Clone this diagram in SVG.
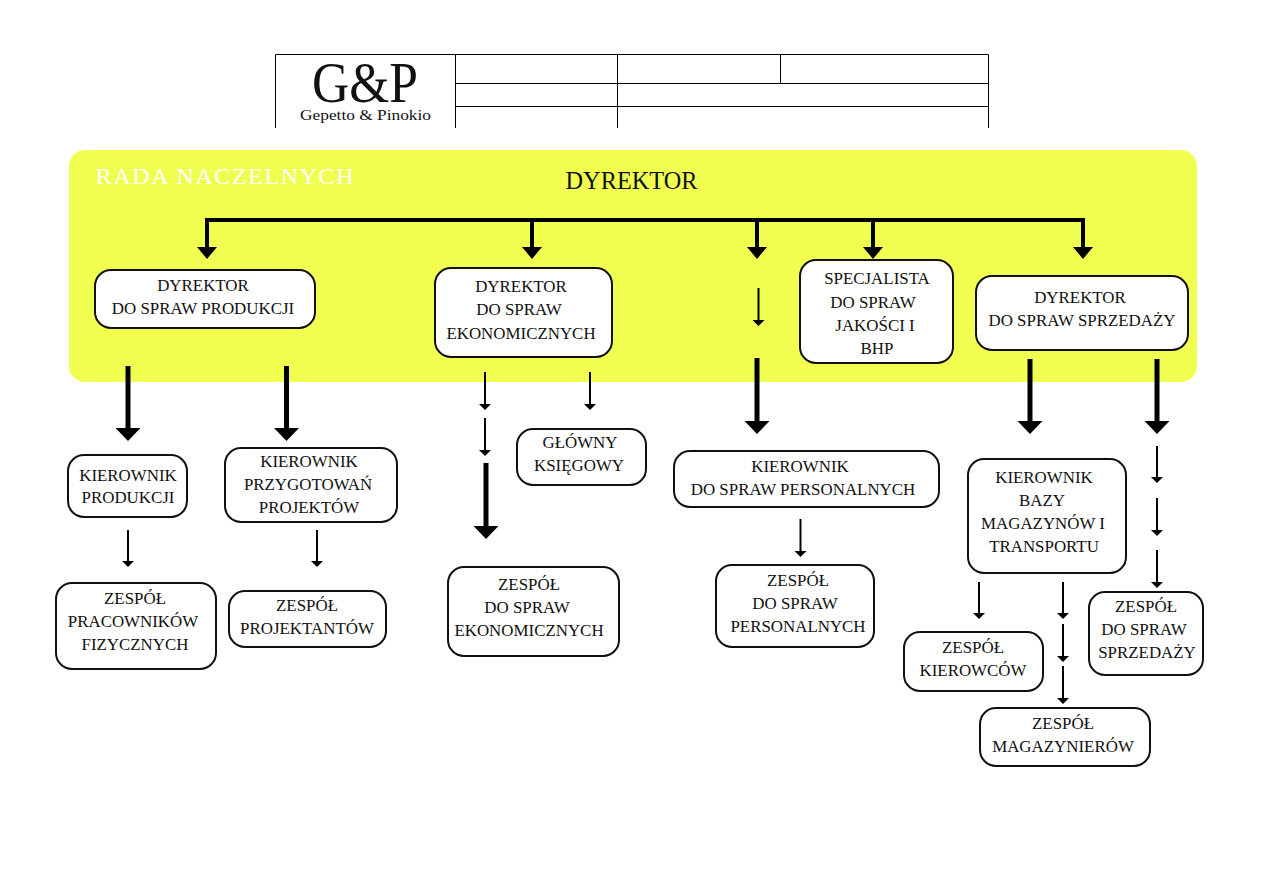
<svg xmlns="http://www.w3.org/2000/svg" width="1263" height="893" viewBox="0 0 1263 893">
<style>
text{font-family:"Liberation Serif","Times New Roman",serif;fill:#111;text-anchor:middle}
.n{font-size:16.9px}
.box{fill:#fff;stroke:#111;stroke-width:2}
.grid{fill:none;stroke:#000;stroke-width:1}
.thick{stroke:#000;stroke-width:5;fill:none;marker-end:url(#headL)}
.mid{stroke:#000;stroke-width:4;fill:none;marker-end:url(#headM)}
.thin{stroke:#000;stroke-width:2;fill:none;marker-end:url(#headS)}
</style>
<defs>
<marker id="headL" markerUnits="userSpaceOnUse" markerWidth="25" markerHeight="13" refX="12.500" refY="0" orient="0" viewBox="0 0 25 13" overflow="visible"><path d="M0 0H25L12.500 13Z"/></marker>
<marker id="headM" markerUnits="userSpaceOnUse" markerWidth="20" markerHeight="12" refX="10" refY="0" orient="0" viewBox="0 0 20 12" overflow="visible"><path d="M0 0H20L10 12Z"/></marker>
<marker id="headS" markerUnits="userSpaceOnUse" markerWidth="12" markerHeight="6" refX="6" refY="0" orient="0" viewBox="0 0 12 6" overflow="visible"><path d="M0 0H12L6 6Z"/></marker>
</defs>
<rect width="1263" height="893" fill="#fff"/>

<!-- letterhead -->
<g id="letterhead">
<path class="grid" d="M275.500 128V54.500H988.500V128M455.500 55V128M617.500 55V128M780.500 55V83M455.500 83.500H988M455.500 106.500H988"/>
<text x="365" y="102" font-size="57" textLength="106" lengthAdjust="spacingAndGlyphs">G&amp;P</text>
<text x="365.500" y="120" font-size="15.500" textLength="131" lengthAdjust="spacingAndGlyphs">Gepetto &amp; Pinokio</text>
</g>

<!-- board panel -->
<g id="board">
<rect x="69" y="150" width="1128" height="232" rx="16" fill="#f0ff50"/>
<text x="225.500" y="184" font-size="24" letter-spacing="1.600" style="fill:#fff">RADA NACZELNYCH</text>
<text x="631.500" y="189" font-size="24.300">DYREKTOR</text>
</g>

<g id="connectors">
<path d="M205 220H1085" stroke="#000" stroke-width="4" fill="none"/>
<path class="mid" d="M207 220V247"/>
<path class="mid" d="M532 220V247"/>
<path class="mid" d="M757 220V247"/>
<path class="mid" d="M873 220V247"/>
<path class="mid" d="M1083 220V247"/>
<path class="thin" d="M758.500 288V320"/>
<path class="thick" d="M128 366V428"/>
<path class="thick" d="M286.500 366V428"/>
<path class="thick" d="M757 358V421"/>
<path class="thick" d="M1030 359V421"/>
<path class="thick" d="M1157 359V421"/>
<path class="thick" d="M486 463V526"/>
<path class="thin" d="M128 530V561"/>
<path class="thin" d="M317 530V561"/>
<path class="thin" d="M485 372V404"/>
<path class="thin" d="M485 418V450"/>
<path class="thin" d="M590 372V404"/>
<path class="thin" d="M800.500 519V551"/>
<path class="thin" d="M1157 446V477"/>
<path class="thin" d="M1157 498V530"/>
<path class="thin" d="M1157 550V582"/>
<path class="thin" d="M979 582V613"/>
<path class="thin" d="M1063 582V613"/>
<path class="thin" d="M1063 624V656"/>
<path class="thin" d="M1063 666V698"/>
</g>

<g id="dyr-produkcji">
<rect class="box" x="95" y="270" width="220" height="58" rx="16"/>
<text class="n" x="203" y="291">DYREKTOR</text>
<text class="n" x="203" y="314">DO SPRAW PRODUKCJI</text>
</g>
<g id="dyr-ekonomicznych">
<rect class="box" x="435" y="268" width="177" height="89" rx="16"/>
<text class="n" x="521" y="292">DYREKTOR</text>
<text class="n" x="519" y="315">DO SPRAW</text>
<text class="n" x="521" y="339">EKONOMICZNYCH</text>
</g>
<g id="specjalista">
<rect class="box" x="800" y="260" width="153" height="103" rx="16"/>
<text class="n" x="877" y="284">SPECJALISTA</text>
<text class="n" x="873" y="308">DO SPRAW</text>
<text class="n" x="875" y="331">JAKOŚCI I</text>
<text class="n" x="877" y="354">BHP</text>
</g>
<g id="dyr-sprzedazy">
<rect class="box" x="976" y="276" width="212" height="74" rx="16"/>
<text class="n" x="1080" y="303">DYREKTOR</text>
<text class="n" x="1082" y="326">DO SPRAW SPRZEDAŻY</text>
</g>
<g id="kier-produkcji">
<rect class="box" x="68" y="455" width="119" height="62" rx="16"/>
<text class="n" x="128" y="481">KIEROWNIK</text>
<text class="n" x="128" y="503">PRODUKCJI</text>
</g>
<g id="kier-przygotowan">
<rect class="box" x="225" y="448" width="172" height="74" rx="16"/>
<text class="n" x="309" y="467">KIEROWNIK</text>
<text class="n" x="308" y="490">PRZYGOTOWAŃ</text>
<text class="n" x="309" y="513">PROJEKTÓW</text>
</g>
<g id="zespol-pracownikow">
<rect class="box" x="56" y="583" width="160" height="86" rx="16"/>
<text class="n" x="135" y="604">ZESPÓŁ</text>
<text class="n" x="133" y="627">PRACOWNIKÓW</text>
<text class="n" x="135" y="650">FIZYCZNYCH</text>
</g>
<g id="zespol-projektantow">
<rect class="box" x="229" y="591" width="157" height="56" rx="16"/>
<text class="n" x="307" y="611">ZESPÓŁ</text>
<text class="n" x="307" y="634">PROJEKTANTÓW</text>
</g>
<g id="glowny-ksiegowy">
<rect class="box" x="517" y="429" width="129" height="56" rx="16"/>
<text class="n" x="580" y="448">GŁÓWNY</text>
<text class="n" x="579" y="471">KSIĘGOWY</text>
</g>
<g id="zespol-ekonomicznych">
<rect class="box" x="448" y="567" width="171" height="89" rx="16"/>
<text class="n" x="529" y="590">ZESPÓŁ</text>
<text class="n" x="527" y="613">DO SPRAW</text>
<text class="n" x="529" y="636">EKONOMICZNYCH</text>
</g>
<g id="kier-personalnych">
<rect class="box" x="674" y="451" width="265" height="56" rx="16"/>
<text class="n" x="800" y="472">KIEROWNIK</text>
<text class="n" x="803" y="495">DO SPRAW PERSONALNYCH</text>
</g>
<g id="zespol-personalnych">
<rect class="box" x="716" y="565" width="158" height="82" rx="16"/>
<text class="n" x="798" y="586">ZESPÓŁ</text>
<text class="n" x="795" y="609">DO SPRAW</text>
<text class="n" x="798" y="632">PERSONALNYCH</text>
</g>
<g id="kier-bazy">
<rect class="box" x="968" y="459" width="158" height="114" rx="16"/>
<text class="n" x="1044" y="483">KIEROWNIK</text>
<text class="n" x="1042" y="506">BAZY</text>
<text class="n" x="1043" y="529">MAGAZYNÓW I</text>
<text class="n" x="1044" y="552">TRANSPORTU</text>
</g>
<g id="zespol-kierowcow">
<rect class="box" x="904" y="632" width="139" height="59" rx="16"/>
<text class="n" x="973" y="653">ZESPÓŁ</text>
<text class="n" x="973" y="676">KIEROWCÓW</text>
</g>
<g id="zespol-magazynierow">
<rect class="box" x="980" y="708" width="170" height="58" rx="16"/>
<text class="n" x="1063" y="729">ZESPÓŁ</text>
<text class="n" x="1063" y="752">MAGAZYNIERÓW</text>
</g>
<g id="zespol-sprzedazy">
<rect class="box" x="1089" y="592" width="114" height="83" rx="16"/>
<text class="n" x="1146" y="612">ZESPÓŁ</text>
<text class="n" x="1144" y="635">DO SPRAW</text>
<text class="n" x="1147" y="658">SPRZEDAŻY</text>
</g>
</svg>
